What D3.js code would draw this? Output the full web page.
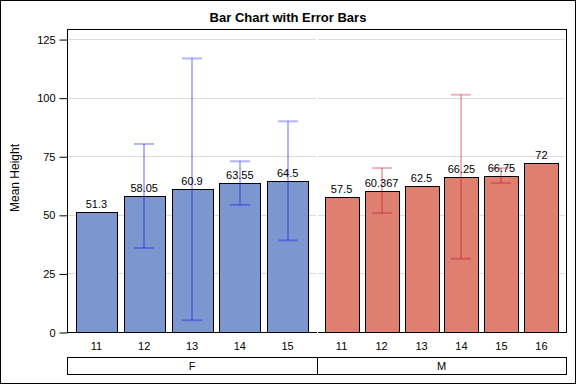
<!DOCTYPE html>
<html>
<head>
<meta charset="utf-8">
<script src="https://cdn.jsdelivr.net/npm/d3@7"></script>
<style>
  body { margin: 0; background: #fff; }
  svg { display: block; font-family: "Liberation Sans", Arial, sans-serif; }
</style>
</head>
<body>
<svg width="576" height="384"></svg>
<script>
// groups (sex) and their age categories
const groups = ['F', 'M'];
const fAges = ['11', '12', '13', '14', '15'];
const mAges = ['11', '12', '13', '14', '15', '16'];
// mean heights
const fMeans = [51.3, 58.05, 60.9, 63.55, 64.5];
const mMeans = [57.5, 60.367, 62.5, 66.25, 66.75, 72];
// error half widths (null = no error bar)
const fErr = [null, 22.2, 55.85, 9.3, 25.4];
const mErr = [null, 9.6, null, 35, 3.2, null];
const yTicks = [0, 25, 50, 75, 100, 125];

const W = 576, H = 384;
const plotL = 67, plotR = 566, plotT = 29, plotB = 332;
const mid = 317;

const svg = d3.select('svg');

// outer border
svg.append('rect')
  .attr('x', 0.5).attr('y', 0.5)
  .attr('width', W - 1).attr('height', H - 1)
  .attr('fill', 'none').attr('stroke', '#000');

svg.append('text')
  .attr('x', W / 2).attr('y', 22)
  .attr('text-anchor', 'middle')
  .attr('font-size', 13).attr('font-weight', 'bold')
  .text('Bar Chart with Error Bars');

const yScale = d3.scaleLinear()
  .domain([0, 129.3])
  .range([plotB, plotT]);

const panels = [
  { name: groups[0], ages: fAges, means: fMeans, err: fErr, x0: plotL, x1: mid,
    fill: '#7c97cd', errColor: 'rgba(0,0,255,0.3)' },
  { name: groups[1], ages: mAges, means: mMeans, err: mErr, x0: mid, x1: plotR,
    fill: '#de7f70', errColor: 'rgba(200,0,30,0.3)' }
];

panels.forEach(p => {
  const xScale = d3.scaleBand()
    .domain(p.ages)
    .range([p.x0, p.x1])
    .paddingInner(0.15)
    .paddingOuter(0.19);

  const g = svg.append('g');

  // grid lines
  g.append('g')
    .selectAll('line')
    .data(yTicks.filter(d => d > 0))
    .enter()
    .append('line')
    .attr('x1', p.x0 + 1).attr('x2', p.x1 - 1)
    .attr('y1', d => Math.round(yScale(d)) + 0.5)
    .attr('y2', d => Math.round(yScale(d)) + 0.5)
    .attr('stroke', '#dcdcdc');

  const rows = p.ages.map((a, i) => ({ age: a, mean: p.means[i], err: p.err[i] }));

  g.selectAll('rect.bar')
    .data(rows)
    .enter()
    .append('rect')
    .attr('class', 'bar')
    .attr('x', d => Math.round(xScale(d.age)) + 0.5)
    .attr('y', d => Math.round(yScale(d.mean)) + 0.5)
    .attr('width', Math.round(xScale.bandwidth()))
    .attr('height', d => Math.round(yScale(0)) - Math.round(yScale(d.mean)))
    .attr('fill', p.fill)
    .attr('stroke', '#000');

  const errRows = rows.filter(d => d.err != null);
  const cx = d => Math.round(xScale(d.age) + xScale.bandwidth() / 2);
  const eg = g.selectAll('g.err')
    .data(errRows)
    .enter()
    .append('g')
    .attr('stroke', p.errColor)
    .attr('stroke-width', 2);
  eg.append('line')
    .attr('x1', cx).attr('x2', cx)
    .attr('y1', d => yScale(d.mean + d.err))
    .attr('y2', d => yScale(d.mean - d.err));
  [1, -1].forEach(s => {
    eg.append('line')
      .attr('x1', d => cx(d) - 10).attr('x2', d => cx(d) + 10)
      .attr('y1', d => yScale(d.mean + s * d.err))
      .attr('y2', d => yScale(d.mean + s * d.err));
  });

  g.selectAll('text.val')
    .data(rows)
    .enter()
    .append('text')
    .attr('x', d => xScale(d.age) + xScale.bandwidth() / 2)
    .attr('y', d => yScale(d.mean) - 4)
    .attr('text-anchor', 'middle')
    .attr('font-size', 11)
    .text(d => d.mean);

  // x tick labels
  g.selectAll('text.tick')
    .data(p.ages)
    .enter()
    .append('text')
    .attr('x', d => xScale(d) + xScale.bandwidth() / 2)
    .attr('y', 350)
    .attr('text-anchor', 'middle')
    .attr('font-size', 11)
    .text(d => d);

  // group box
  g.append('rect')
    .attr('x', p.x0 + 0.5).attr('y', 357.5)
    .attr('width', p.x1 - p.x0).attr('height', 17)
    .attr('fill', 'none').attr('stroke', '#000');
  g.append('text')
    .attr('x', (p.x0 + p.x1) / 2).attr('y', 370)
    .attr('text-anchor', 'middle')
    .attr('font-size', 11)
    .text(p.name);
});

// plot frame
svg.append('rect')
  .attr('x', plotL + 0.5).attr('y', plotT + 0.5)
  .attr('width', plotR - plotL).attr('height', plotB - plotT)
  .attr('fill', 'none').attr('stroke', '#000');

// panel divider (thin white gap)
svg.append('line')
  .attr('x1', mid + 0.5).attr('x2', mid + 0.5)
  .attr('y1', plotT + 1).attr('y2', plotB + 1)
  .attr('stroke', '#fff');

// y axis
const yAxis = svg.append('g')
  .attr('transform', `translate(${plotL + 0.5},0.5)`)
  .call(d3.axisLeft(yScale).tickValues(yTicks).tickSize(8).tickPadding(4));
yAxis.select('.domain').remove();
yAxis.selectAll('text')
  .attr('font-family', '"Liberation Sans", Arial, sans-serif')
  .attr('font-size', 11).attr('fill', '#000');

svg.append('text')
  .attr('transform', 'translate(19,178) rotate(-90)')
  .attr('text-anchor', 'middle')
  .attr('font-size', 12)
  .text('Mean Height');
</script>
</body>
</html>
